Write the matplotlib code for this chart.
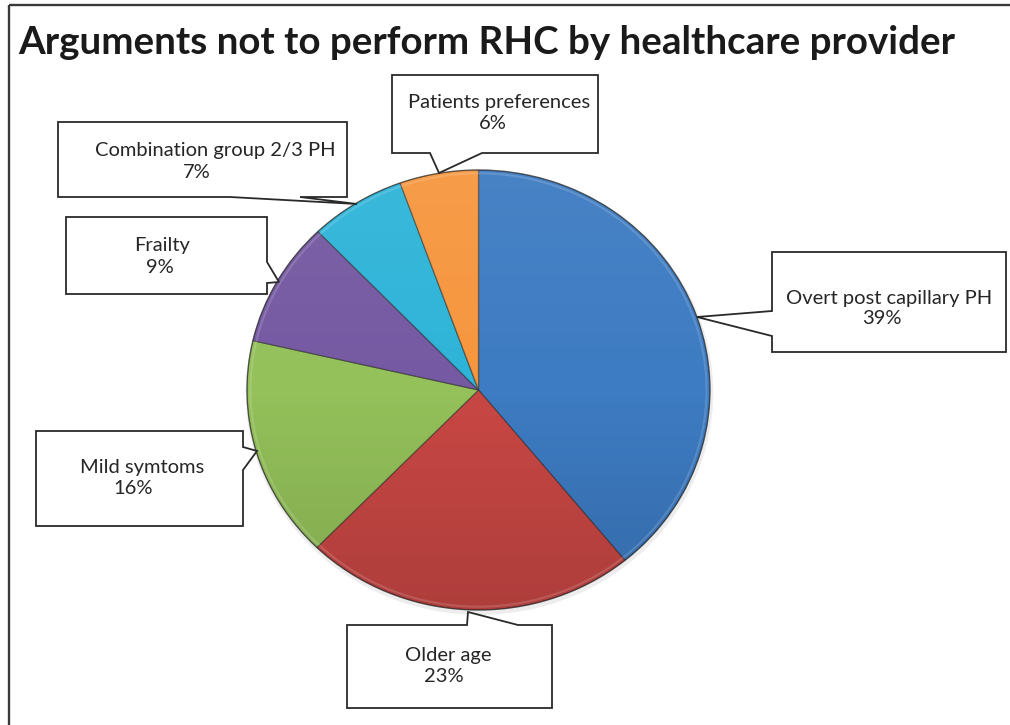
import matplotlib
matplotlib.use("Agg")
import matplotlib.pyplot as plt
import numpy as np
from matplotlib.patches import Polygon, Ellipse, Circle

# ---------------- data ----------------
categories = ["Overt post capillary PH", "Older age", "Mild symtoms", "Frailty",
              "Combination group 2/3 PH", "Patients preferences"]
values = [39.1, 23.2, 16.3, 9.2, 6.7, 5.5]
pct_labels = ["39%", "23%", "16%", "9%", "7%", "6%"]
colors = ["#3D7BC2", "#C84744", "#94C15A", "#7559A2", "#2EB4D8", "#F6963E"]
title = "Arguments not to perform RHC by healthcare provider"

W, H = 1010, 725
fig = plt.figure(figsize=(W / 100, H / 100), dpi=100)
fig.patch.set_facecolor("white")

# ---------------- pie ----------------
cx, cy, rx, ry = 478.5, 390, 231.5, 220
pax = fig.add_axes([(cx - rx * 1.04) / W, (H - (cy + ry * 1.04)) / H, 2.08 * rx / W, 2.08 * ry / H])
# soft shadow
pax.add_patch(Ellipse((0.004, -0.012), 2.02, 2.02, facecolor="#000000", alpha=0.07,
                      edgecolor="none", zorder=0))
wedges, _ = pax.pie(values, colors=colors, startangle=90, counterclock=False,
                    radius=1, center=(0, 0),
                    wedgeprops=dict(edgecolor=(0.15, 0.15, 0.15, 0.5), linewidth=0.9))
for w in wedges:
    w.set_zorder(2)
pax.set_aspect("auto")
pax.axis("off")

# vertical shading over pie
grad = np.linspace(1, 0, 256).reshape(-1, 1)
rgba = np.zeros((256, 1, 4))
top = grad > 0.5
rgba[..., 0:3] = np.where(top[..., None], 1.0, 0.0)
rgba[..., 3] = np.abs(grad - 0.5) * np.where(top, 0.12, 0.26)
im = pax.imshow(rgba, extent=(-1, 1, -1, 1), aspect="auto", zorder=3, interpolation="bilinear")
clip = Circle((0, 0), 1.0, transform=pax.transData)
im.set_clip_path(clip)
pax.add_patch(Circle((0, 0), 0.985, facecolor="none", edgecolor=(1, 1, 1, 0.15),
                     linewidth=1.5, zorder=4))
pax.add_patch(Circle((0, 0), 1.0, facecolor="none", edgecolor=(0.1, 0.1, 0.1, 0.45),
                     linewidth=0.9, zorder=4))
pax.set_xlim(-1.04, 1.04)
pax.set_ylim(-1.04, 1.04)

# ---------------- overlay (pixel coords, y down) ----------------
ax = fig.add_axes([0, 0, 1, 1], facecolor="none")
ax.set_xlim(0, W)
ax.set_ylim(H, 0)
ax.axis("off")

# chart border (only top & left visible)
ax.plot([9, W + 5], [5, 5], color="#3a3a3a", lw=1.7, solid_capstyle="butt")
ax.plot([9, 9], [5, H + 5], color="#3a3a3a", lw=1.7, solid_capstyle="butt")

fig.canvas.draw()
renderer = fig.canvas.get_renderer()


def fit(t, target):
    w = t.get_window_extent(renderer).width
    t.set_fontsize(t.get_fontsize() * target / w)


tt = ax.text(18, 42, title, fontsize=24, fontweight="bold", family="Lato",
             color="#1a1a1a", ha="left", va="center")
fit(tt, 937)

# callout shapes
shapes = [
    [(772, 252), (1006, 252), (1006, 352), (772, 352), (772, 336), (697, 317), (772, 311)],
    [(347, 625), (467, 625), (468, 612), (518, 625), (552, 625), (552, 708), (347, 708)],
    [(36, 431), (243, 431), (243, 447), (257, 451), (243, 470), (243, 526), (36, 526)],
    [(66, 217), (267, 217), (267, 262), (279, 282), (267, 283), (267, 294), (66, 294)],
    [(58, 122), (347, 122), (347, 197), (300, 197), (357, 204), (230, 197), (58, 197)],
    [(392, 75), (598, 75), (598, 153), (482, 153), (439, 173), (430, 153), (392, 153)],
]
line_pos = [
    ((889, 298), (882, 318)),
    ((448, 655), (444, 677)),
    ((142, 467), (133, 488)),
    ((162, 245), (160, 267)),
    ((215, 150), (197, 172)),
    ((499, 102), (493, 123)),
]

ref = ax.text(0, -100, categories[0], fontsize=12, family="Lato")
fit(ref, 206)
fs = ref.get_fontsize()
ref.remove()

for shp, (p1, p2), cat, lab in zip(shapes, line_pos, categories, pct_labels):
    ax.add_patch(Polygon(shp, closed=True, facecolor="white", edgecolor="#2a2a2a",
                         linewidth=1.3, joinstyle="miter", zorder=5))
    ax.text(p1[0], p1[1], cat, fontsize=fs, family="Lato", color="#262626",
            ha="center", va="center", zorder=6)
    ax.text(p2[0], p2[1], lab, fontsize=fs, family="Lato", color="#262626",
            ha="center", va="center", zorder=6)

fig.savefig("out.png", dpi=100, facecolor="white")
